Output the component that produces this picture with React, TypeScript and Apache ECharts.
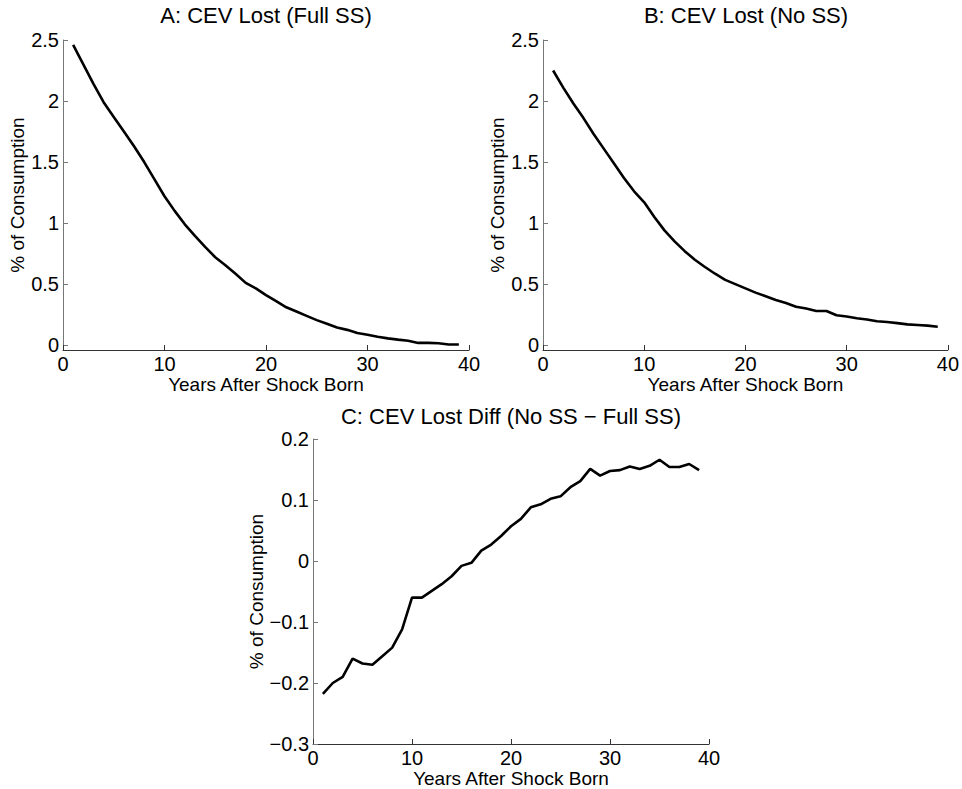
import React, { useEffect, useRef } from "react";
import * as echarts from "echarts";

const years = Array.from({ length: 39 }, (_, i) => i + 1);

const fullSS = [
  2.46, 2.3, 2.14, 1.99, 1.87, 1.75, 1.63, 1.5, 1.36, 1.22,
  1.1, 0.99, 0.895, 0.805, 0.72, 0.655, 0.585, 0.51, 0.465, 0.41,
  0.36, 0.31, 0.275, 0.24, 0.205, 0.175, 0.145, 0.125, 0.1, 0.085,
  0.068, 0.055, 0.045, 0.036, 0.018, 0.018, 0.015, 0.005, 0.005,
];

const noSS = [
  2.25, 2.11, 1.98, 1.86, 1.73, 1.61, 1.49, 1.37, 1.26, 1.17,
  1.05, 0.94, 0.85, 0.77, 0.7, 0.64, 0.585, 0.535, 0.5, 0.465,
  0.43, 0.4, 0.37, 0.345, 0.315, 0.3, 0.28, 0.28, 0.245, 0.235,
  0.22, 0.21, 0.195, 0.19, 0.18, 0.17, 0.165, 0.16, 0.15,
];

const diff = [
  -0.218, -0.2, -0.19, -0.16, -0.168, -0.17, -0.156, -0.142, -0.112, -0.06,
  -0.06, -0.049, -0.038, -0.025, -0.008, -0.003, 0.017, 0.027, 0.041, 0.057,
  0.069, 0.088, 0.093, 0.102, 0.106, 0.121, 0.131, 0.151, 0.14, 0.1475,
  0.149, 0.155, 0.151, 0.156, 0.166, 0.154, 0.154, 0.159, 0.149,
];

const xTicks = [0, 10, 20, 30, 40];
const yTicksAB = [0, 0.5, 1, 1.5, 2, 2.5];
const yTicksC = [-0.3, -0.2, -0.1, 0, 0.1, 0.2];

const titles = [
  "A: CEV Lost (Full SS)",
  "B: CEV Lost (No SS)",
  "C: CEV Lost Diff (No SS \u2212 Full SS)",
];
const xName = "Years After Shock Born";
const yName = "% of Consumption";

const FONT = "'Liberation Sans', Arial, Helvetica, sans-serif";

export default function App() {
  const ref = useRef<HTMLDivElement>(null);
  useEffect(() => {
    if (!ref.current) return;
    const chart = echarts.init(ref.current, null, { renderer: "svg" });

    const grids = [
      { left: 63, top: 40, width: 406, height: 310 },
      { left: 543, top: 40, width: 406, height: 310 },
      { left: 313, top: 439, width: 396, height: 305 },
    ];

    const fmt = (v: number) => String(Math.round(v * 100) / 100).replace("-", "\u2212");

    const xAxes = grids.map((_, i) => ({
      type: "value",
      gridIndex: i,
      min: 0,
      max: 40,
      interval: 10,
      name: xName,
      nameLocation: "middle",
      nameGap: 22,
      nameTextStyle: { fontFamily: FONT, fontSize: 19, color: "#000" },
      axisLine: { onZero: false, lineStyle: { color: "#333", width: 1 } },
      axisTick: { inside: true, length: 5, lineStyle: { color: "#333" } },
      axisLabel: {
        fontFamily: FONT,
        fontSize: 20,
        color: "#000",
        margin: 4,
        customValues: xTicks,
      },
      splitLine: { show: false },
    }));

    const yAxes = grids.map((_, i) => {
      const ticks = i < 2 ? yTicksAB : yTicksC;
      return {
        type: "value",
        gridIndex: i,
        min: i < 2 ? -0.04 : -0.3,
        max: i < 2 ? 2.5 : 0.2,
        name: yName,
        nameLocation: "middle",
        nameGap: 36,
        nameRotate: 90,
        nameTextStyle: { fontFamily: FONT, fontSize: 19, color: "#000" },
        axisLine: { onZero: false, lineStyle: { color: "#777", width: 1 } },
        axisTick: {
          inside: true,
          length: 5,
          lineStyle: { color: "#777" },
          customValues: ticks,
        },
        axisLabel: {
          fontFamily: FONT,
          fontSize: 20,
          color: "#000",
          margin: 4,
          customValues: ticks,
          formatter: fmt,
        },
        splitLine: { show: false },
      };
    });

    const datasets = [fullSS, noSS, diff];
    const series = datasets.map((d, i) => ({
      type: "line",
      xAxisIndex: i,
      yAxisIndex: i,
      data: years.map((x, j) => [x, d[j]]),
      showSymbol: false,
      symbol: "none",
      lineStyle: { color: "#000", width: 2.6 },
      silent: true,
    }));

    const titleCenters = [
      [266, 15],
      [746, 15],
      [511, 416],
    ];

    chart.setOption({
      animation: false,
      backgroundColor: "#fff",
      grid: grids,
      xAxis: xAxes,
      yAxis: yAxes,
      series,
      graphic: titles.map((t, i) => ({
        type: "text",
        x: titleCenters[i][0],
        y: titleCenters[i][1],
        style: {
          text: t,
          fontFamily: FONT,
          fontSize: 22,
          fill: "#000",
          textAlign: "center",
          textVerticalAlign: "middle",
        },
      })),
    });
    return () => chart.dispose();
  }, []);
  return (
    <div
      ref={ref}
      style={{ position: "fixed", left: 0, top: 0, width: 962, height: 789 }}
    />
  );
}
